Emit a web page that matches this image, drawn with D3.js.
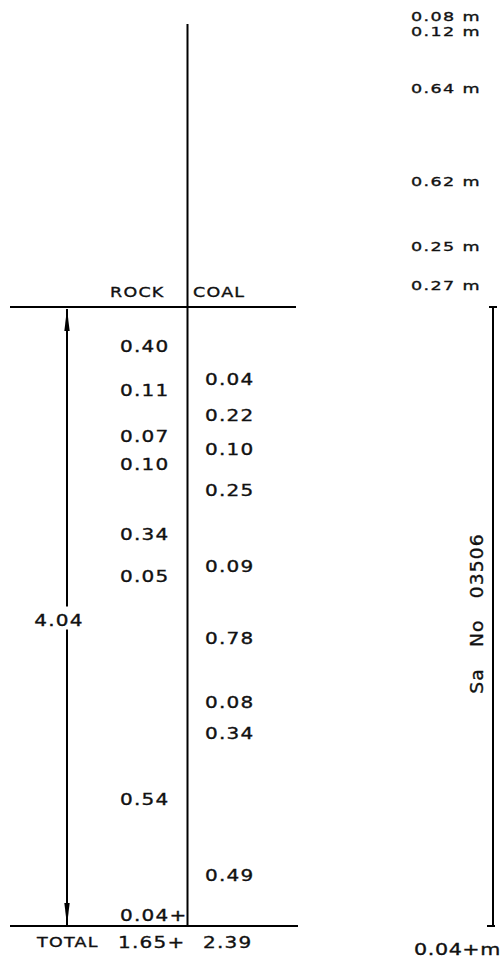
<!DOCTYPE html>
<html>
<head>
<meta charset="utf-8">
<script src="https://cdn.jsdelivr.net/npm/d3@7"></script>
<style>
  body { margin: 0; background: #fff; }
  text { font-family: "DejaVu Sans", sans-serif; fill: #111; stroke: #111; stroke-width: 0.35px; }
</style>
</head>
<body>
<svg id="chart" width="504" height="961"></svg>
<script>
// seam section, top to bottom (m)
const layerKind = ["rock", "coal", "rock", "coal", "rock", "coal", "rock", "coal", "rock",
  "coal", "rock", "coal", "coal", "coal", "rock", "coal", "rock"];
const layerThickness = [0.40, 0.04, 0.11, 0.22, 0.07, 0.10, 0.10, 0.25, 0.34,
  0.09, 0.05, 0.78, 0.08, 0.34, 0.54, 0.49, 0.04];
const columnKeys = ["rock", "coal"];
const columnTitles = ["ROCK", "COAL"];

// layers above the seam (Sa No 03506), top to bottom
const roofThickness = [0.08, 0.12, 0.64, 0.62, 0.25, 0.27];
const floorLabel = "0.04+m";
const sampleLabel = "Sa   No   03506";

const fmt = d3.format(".2f");
const svg = d3.select("#chart");

const total = d3.sum(layerThickness);
const lastIdx = layerThickness.length - 1;

// build layers with cumulative depth
let acc = 0;
const layers = layerThickness.map((t, i) => {
  const top = acc;
  acc += t;
  return { kind: layerKind[i], t: t, top: top, mid: top + t / 2, open: i === lastIdx };
});

const depth = d3.scaleLinear().domain([0, total]).range([307, 926]);
const labelDepth = d3.scaleLinear().domain([0, total]).range([317, 918]);
const colX = d3.scaleOrdinal().domain(columnKeys).range([120, 205]);

const roofTotal = d3.sum(roofThickness);
let up = roofTotal;
const roof = roofThickness.map((t) => {
  const top = up;
  up -= t;
  return { t: t, mid: top - t / 2 };
});
const roofY = d3.scaleLinear().domain([0, roofTotal]).range([305, 11]);

// wide lettering like the drafting stencil
function label(sel, size, spacing) {
  return sel
    .attr("dy", "0.35em")
    .style("font-size", size + "px")
    .style("letter-spacing", spacing + "px");
}
const wide = (x, y, k = 1.25) => `translate(${x},${y}) scale(${k},1)`;

// arrow marker
svg.append("defs").append("marker")
  .attr("id", "arrow")
  .attr("markerUnits", "userSpaceOnUse")
  .attr("viewBox", "0 0 22 7")
  .attr("refX", 22).attr("refY", 3.5)
  .attr("markerWidth", 22).attr("markerHeight", 7)
  .attr("orient", "auto-start-reverse")
  .append("path")
  .attr("d", "M0,0.8 L22,3.5 L0,6.2 Z")
  .attr("fill", "#000");

const lines = svg.append("g").attr("stroke", "#000").attr("stroke-width", 2);

// column divider
lines.append("line")
  .attr("x1", 187.5).attr("x2", 187.5)
  .attr("y1", 24).attr("y2", depth(total));

// top and bottom of seam
lines.append("line")
  .attr("x1", 10).attr("x2", 296)
  .attr("y1", depth(0)).attr("y2", depth(0));
lines.append("line")
  .attr("x1", 10).attr("x2", 298)
  .attr("y1", depth(total)).attr("y2", depth(total));

// thickness arrow
const midY = depth(total / 2);
lines.append("line")
  .attr("x1", 67).attr("x2", 67)
  .attr("y1", midY - 10).attr("y2", depth(0) + 2)
  .attr("marker-end", "url(#arrow)");
lines.append("line")
  .attr("x1", 67).attr("x2", 67)
  .attr("y1", midY + 13).attr("y2", depth(total) - 1)
  .attr("marker-end", "url(#arrow)");

label(svg.append("text"), 16, 1)
  .attr("transform", wide(59, midY + 4))
  .attr("text-anchor", "middle")
  .text(fmt(total));

// sample line on the right
lines.append("line")
  .attr("x1", 493).attr("x2", 493)
  .attr("y1", depth(0)).attr("y2", depth(total));
lines.append("line")
  .attr("x1", 489).attr("x2", 497)
  .attr("y1", depth(0)).attr("y2", depth(0));
lines.append("line")
  .attr("x1", 487).attr("x2", 495)
  .attr("y1", depth(total)).attr("y2", depth(total));

label(svg.append("text"), 17, 1)
  .attr("transform", `translate(477,${midY - 3}) rotate(-90) scale(1.1,1)`)
  .attr("text-anchor", "middle")
  .style("white-space", "pre")
  .text(sampleLabel);

// headers
label(svg.selectAll(".head").data(columnKeys).join("text"), 14, 1)
  .attr("class", "head")
  .attr("transform", (d) => wide(d === "rock" ? colX(d) - 10 : colX(d) - 12, 292))
  .text((d, i) => columnTitles[i]);

// layer thickness labels
label(svg.selectAll(".layer").data(layers).join("text"), 16, 1)
  .attr("class", "layer")
  .attr("transform", (d) => wide(colX(d.kind), labelDepth(d.mid)))
  .text((d) => fmt(d.t) + (d.open ? "+" : ""));

// totals row
const totals = columnKeys.map((k) => ({
  kind: k,
  v: d3.sum(layers.filter((d) => d.kind === k), (d) => d.t),
  open: layers.some((d) => d.kind === k && d.open),
}));
label(svg.append("text"), 14, 1)
  .attr("transform", wide(37, 942))
  .text("TOTAL");
label(svg.selectAll(".total").data(totals).join("text"), 16, 1)
  .attr("class", "total")
  .attr("transform", (d) => wide(colX(d.kind) - 2, 942))
  .text((d) => fmt(d.v) + (d.open ? "+" : ""));

// roof layers
label(svg.selectAll(".roof").data(roof).join("text"), 13, 1)
  .attr("class", "roof")
  .attr("transform", (d) => wide(411, roofY(d.mid), 1.35))
  .text((d) => fmt(d.t) + " m");

label(svg.append("text"), 16.5, 0.5)
  .attr("transform", wide(414, 949))
  .text(floorLabel);
</script>
</body>
</html>
